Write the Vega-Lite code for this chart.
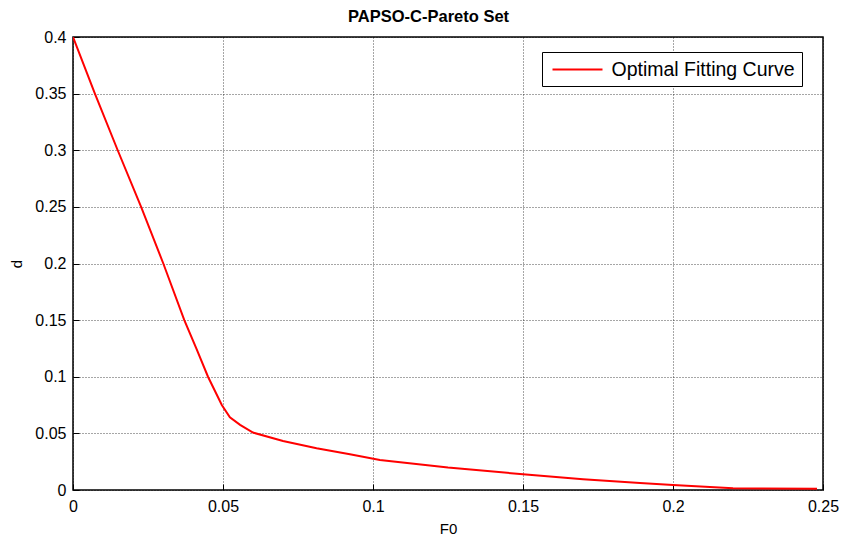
{
  "$schema": "https://vega.github.io/schema/vega-lite/v6.json",
  "autosize": {"type": "none"},
  "width": 750,
  "height": 453,
  "padding": {"left": 73, "top": 37, "right": 31, "bottom": 47},
  "background": "white",
  "title": {"text": "PAPSO-C-Pareto Set", "font": "Liberation Sans", "fontSize": 16.5, "fontWeight": "bold", "color": "black", "offset": 4, "anchor": "start", "frame": "group", "dx": 275},
  "config": {
    "view": {"stroke": "black", "strokeWidth": 1.5},
    "font": "Liberation Sans"
  },
  "data": {"values": [
    {"series": "Optimal Fitting Curve", "F0": 0.0, "d": 0.4},
    {"series": "Optimal Fitting Curve", "F0": 0.0073, "d": 0.35},
    {"series": "Optimal Fitting Curve", "F0": 0.0149, "d": 0.3},
    {"series": "Optimal Fitting Curve", "F0": 0.0227, "d": 0.25},
    {"series": "Optimal Fitting Curve", "F0": 0.0301, "d": 0.2},
    {"series": "Optimal Fitting Curve", "F0": 0.0371, "d": 0.15},
    {"series": "Optimal Fitting Curve", "F0": 0.0411, "d": 0.125},
    {"series": "Optimal Fitting Curve", "F0": 0.045, "d": 0.1},
    {"series": "Optimal Fitting Curve", "F0": 0.0496, "d": 0.075},
    {"series": "Optimal Fitting Curve", "F0": 0.0523, "d": 0.0642},
    {"series": "Optimal Fitting Curve", "F0": 0.0557, "d": 0.0575},
    {"series": "Optimal Fitting Curve", "F0": 0.06, "d": 0.0507},
    {"series": "Optimal Fitting Curve", "F0": 0.07, "d": 0.0433},
    {"series": "Optimal Fitting Curve", "F0": 0.0812, "d": 0.0368},
    {"series": "Optimal Fitting Curve", "F0": 0.0923, "d": 0.0315},
    {"series": "Optimal Fitting Curve", "F0": 0.1023, "d": 0.0265},
    {"series": "Optimal Fitting Curve", "F0": 0.125, "d": 0.0198},
    {"series": "Optimal Fitting Curve", "F0": 0.15, "d": 0.0139},
    {"series": "Optimal Fitting Curve", "F0": 0.17, "d": 0.0095},
    {"series": "Optimal Fitting Curve", "F0": 0.189, "d": 0.0062},
    {"series": "Optimal Fitting Curve", "F0": 0.2, "d": 0.0044},
    {"series": "Optimal Fitting Curve", "F0": 0.22, "d": 0.0016},
    {"series": "Optimal Fitting Curve", "F0": 0.248, "d": 0.0011}
  ]},
  "mark": {"type": "line", "strokeWidth": 2, "clip": true},
  "encoding": {
    "x": {"field": "F0", "type": "quantitative", "scale": {"domain": [0, 0.25], "nice": false, "zero": false},
      "axis": {"title": "F0", "values": [0, 0.05, 0.1, 0.15, 0.2, 0.25], "format": "~g", "grid": true, "gridColor": "black", "gridDash": [1, 2], "gridOpacity": 0.7, "gridWidth": 1,
        "domain": false, "tickSize": -6, "tickColor": "black", "labelFlush": false, "labelFont": "Liberation Sans", "labelFontSize": 16, "labelColor": "black", "labelPadding": 14,
        "titleFont": "Liberation Sans", "titleFontSize": 15, "titleFontWeight": "normal", "titleColor": "black", "titlePadding": 7}},
    "y": {"field": "d", "type": "quantitative", "scale": {"domain": [0, 0.4], "nice": false, "zero": false},
      "axis": {"title": "d", "values": [0, 0.05, 0.1, 0.15, 0.2, 0.25, 0.3, 0.35, 0.4], "format": "~g", "grid": true, "gridColor": "black", "gridDash": [1, 2], "gridOpacity": 0.7, "gridWidth": 1,
        "domain": false, "tickSize": -6, "tickColor": "black", "labelFlush": false, "labelFont": "Liberation Sans", "labelFontSize": 16, "labelColor": "black", "labelPadding": 13,
        "titleFont": "Liberation Sans", "titleFontSize": 15, "titleFontWeight": "normal", "titleColor": "black", "titlePadding": 10}},
    "color": {"field": "series", "type": "nominal", "scale": {"range": ["#ff0000"]},
      "legend": {"title": null, "orient": "none", "legendX": 469, "legendY": 15, "symbolType": "M-1,0H4", "symbolSize": 400, "symbolStrokeWidth": 2,
        "labelFont": "Liberation Sans", "labelFontSize": 19.5, "labelColor": "black", "labelOffset": 38, "padding": 6.5, "symbolOffset": 3,
        "strokeColor": "black", "fillColor": "white", "labelLimit": 400}}
  }
}
